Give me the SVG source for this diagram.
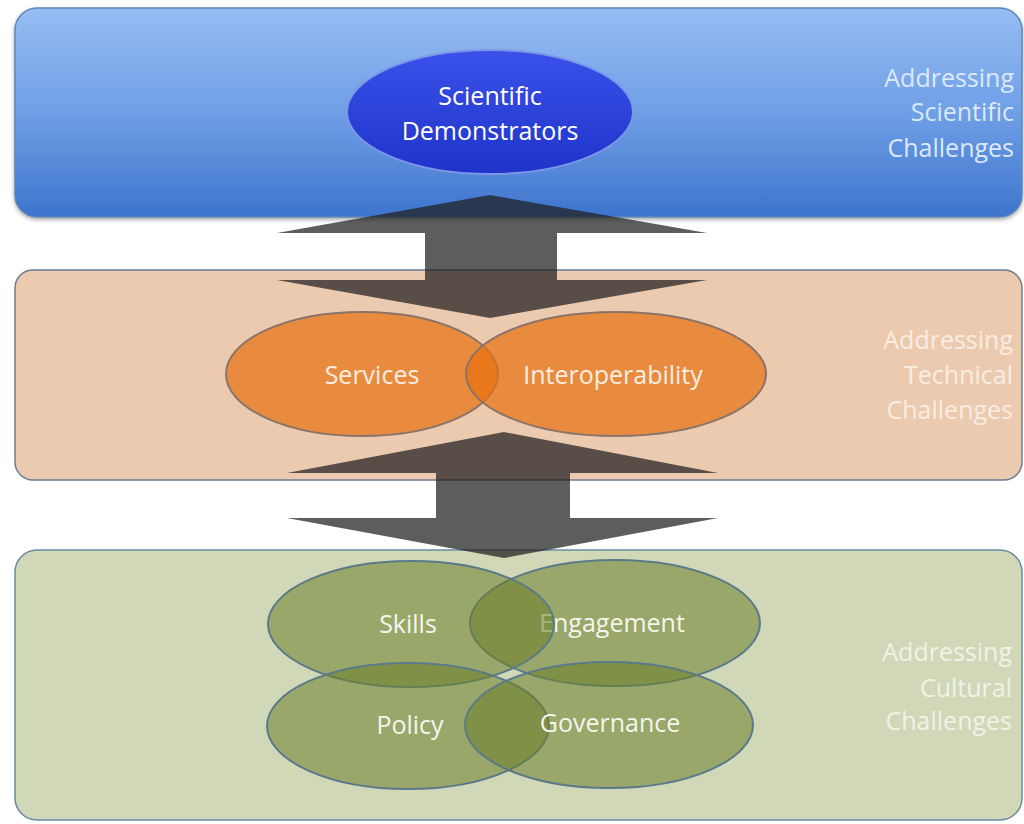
<svg xmlns="http://www.w3.org/2000/svg" width="1024" height="824" viewBox="0 0 1024 824">
<defs>
<linearGradient id="gBlue" x1="0" y1="0" x2="0" y2="1">
<stop offset="0" stop-color="#97bdf3"/>
<stop offset="0.5" stop-color="#6f9fe6"/>
<stop offset="1" stop-color="#3d74cc"/>
</linearGradient>
<linearGradient id="gSci" x1="0" y1="0" x2="0" y2="1">
<stop offset="0" stop-color="#3a52ea"/>
<stop offset="1" stop-color="#1f33c9"/>
</linearGradient>
<filter id="shadow" x="-5%" y="-5%" width="110%" height="115%">
<feGaussianBlur in="SourceAlpha" stdDeviation="2"/>
<feOffset dx="0" dy="2" result="b"/>
<feComponentTransfer><feFuncA type="linear" slope="0.35"/></feComponentTransfer>
<feMerge><feMergeNode/><feMergeNode in="SourceGraphic"/></feMerge>
</filter>
</defs>
<style>
.lbl{font-family:"Open Sans","Liberation Sans",sans-serif;font-size:25px;text-anchor:middle;dominant-baseline:central}
.side{font-family:"Open Sans","Liberation Sans",sans-serif;font-size:25px;text-anchor:end}
.arrow{fill:#1e1e1e;fill-opacity:0.72}
.org{fill:#e8700f;fill-opacity:0.7;stroke:#8a7468;stroke-width:2}
.grn{fill:#6b7f2a;fill-opacity:0.55;stroke:#5a7a8a;stroke-width:2}
</style>
<rect width="1024" height="824" fill="#ffffff"/>

<g id="band-scientific">
<rect x="15" y="8" width="1007" height="209" rx="22" fill="url(#gBlue)" stroke="#5f86b8" stroke-width="1.5" filter="url(#shadow)"/>
<text class="side" fill="#dde9fa" x="1014" y="87">Addressing</text>
<text class="side" fill="#dde9fa" x="1014" y="121">Scientific</text>
<text class="side" fill="#dde9fa" x="1014" y="157">Challenges</text>
</g>

<g id="band-technical">
<rect x="15" y="270" width="1007" height="210" rx="18" fill="#ebcab0" stroke="#6e7c92" stroke-width="1.5"/>
<text class="side" fill="#f8ede3" x="1013" y="349">Addressing</text>
<text class="side" fill="#f8ede3" x="1013" y="384">Technical</text>
<text class="side" fill="#f8ede3" x="1013" y="419">Challenges</text>
</g>

<g id="band-cultural">
<rect x="15" y="550" width="1007" height="270" rx="22" fill="#d0d8b8" stroke="#6a8aa2" stroke-width="1.5"/>
<text class="side" fill="#f0f3e6" x="1012" y="661">Addressing</text>
<text class="side" fill="#f0f3e6" x="1012" y="697">Cultural</text>
<text class="side" fill="#f0f3e6" x="1012" y="730">Challenges</text>
</g>

<g id="connectors">
<polygon class="arrow" points="490,195 707,233 557,233 557,280 707,280 490,318 277,280 425,280 425,233 277,233"/>
<polygon class="arrow" points="504,432 718,473 570,473 570,518 718,518 504,558 287,518 436,518 436,473 287,473"/>
</g>

<g id="node-scientific-demonstrators">
<ellipse cx="490" cy="112" rx="143" ry="62" fill="url(#gSci)" stroke="#7d96e8" stroke-width="2"/>
<text class="lbl" fill="#ffffff" x="490" y="95">Scientific</text>
<text class="lbl" fill="#ffffff" x="490" y="130">Demonstrators</text>
</g>

<g id="node-services">
<ellipse class="org" cx="362" cy="374" rx="136" ry="62"/>
<text class="lbl" fill="#fbeee2" x="372" y="374">Services</text>
</g>

<g id="node-interoperability">
<ellipse class="org" cx="616" cy="374" rx="150" ry="62"/>
<text class="lbl" fill="#fbeee2" x="613" y="374">Interoperability</text>
</g>

<g id="node-engagement">
<ellipse class="grn" cx="615" cy="623" rx="145" ry="63"/>
<text class="lbl" fill="#f4f6ec" x="612" y="622">Engagement</text>
</g>

<g id="node-skills">
<ellipse class="grn" cx="411" cy="624" rx="143" ry="63"/>
<text class="lbl" fill="#f4f6ec" x="408" y="623">Skills</text>
</g>

<g id="node-policy">
<ellipse class="grn" cx="408" cy="726" rx="141" ry="63"/>
<text class="lbl" fill="#f4f6ec" x="410" y="724">Policy</text>
</g>

<g id="node-governance">
<ellipse class="grn" cx="609" cy="725" rx="144" ry="63"/>
<text class="lbl" fill="#f4f6ec" x="610" y="722">Governance</text>
</g>
</svg>
